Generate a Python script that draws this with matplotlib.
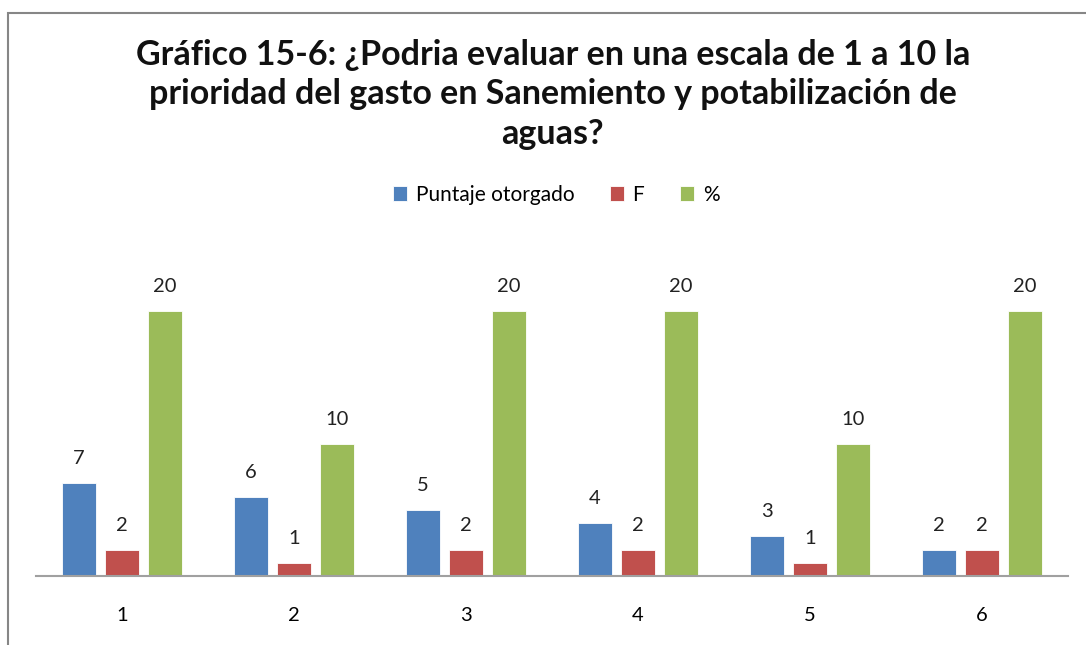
import numpy as np
import matplotlib.pyplot as plt
from matplotlib.patches import Rectangle

categories = ['1', '2', '3', '4', '5', '6']
puntaje = [7, 6, 5, 4, 3, 2]
frecuencia = [2, 1, 2, 2, 1, 2]
porcentaje = [20, 10, 20, 20, 10, 20]

series = [('Puntaje otorgado', puntaje, '#4F81BD'),
          ('F', frecuencia, '#C0504D'),
          ('%', porcentaje, '#9BBB59')]

plt.rcParams['font.family'] = ['Lato', 'DejaVu Sans']

W, H = 1086, 645
fig = plt.figure(figsize=(W / 100, H / 100), dpi=100)

# chart area border (cropped on right and bottom)
fig.patches.append(Rectangle((8 / W, -0.05), 1.2, 1 - 13 / H + 0.05,
                             transform=fig.transFigure, fill=False,
                             edgecolor='#868686', linewidth=1.5))

ax = fig.add_axes([36 / W, 1 - 576 / H, (1068 - 36) / W, (576 - 258) / H])

x = np.arange(len(categories))
width = 0.2
offsets = [-0.25, 0, 0.25]
for (name, vals, color), off in zip(series, offsets):
    bars = ax.bar(x + off, vals, width, color=color, label=name,
                  edgecolor='white', linewidth=0.6)
    for b, v in zip(bars, vals):
        ax.text(b.get_x() + b.get_width() / 2, v + 1.2, str(v),
                ha='center', va='bottom', fontsize=14.5, color='#222222')

ax.set_xlim(-0.5, len(categories) - 0.5)
ax.set_ylim(0, 24)
ax.set_xticks(x)
ax.set_xticklabels(categories, fontsize=14.5)
ax.tick_params(axis='x', length=0, pad=22)
ax.set_yticks([])
for s in ['top', 'right', 'left']:
    ax.spines[s].set_visible(False)
ax.spines['bottom'].set_color('#A0A0A0')
ax.spines['bottom'].set_linewidth(1.5)

fig.text(0.509, 1 - 39 / H,
         'Gráfico 15-6: ¿Podria evaluar en una escala de 1 a 10 la\n'
         'prioridad del gasto en Sanemiento y potabilización de\naguas?',
         ha='center', va='top', fontsize=24.5, fontweight='bold',
         linespacing=1.28, color='#111111')

handles, labels = ax.get_legend_handles_labels()
fig.legend(handles, labels, loc='center', bbox_to_anchor=(0.512, 1 - 195 / H),
           ncol=3, frameon=False, fontsize=15, handlelength=0.7,
           handleheight=0.7, handletextpad=0.4, columnspacing=1.7)

fig.savefig('out.png', dpi=100)
